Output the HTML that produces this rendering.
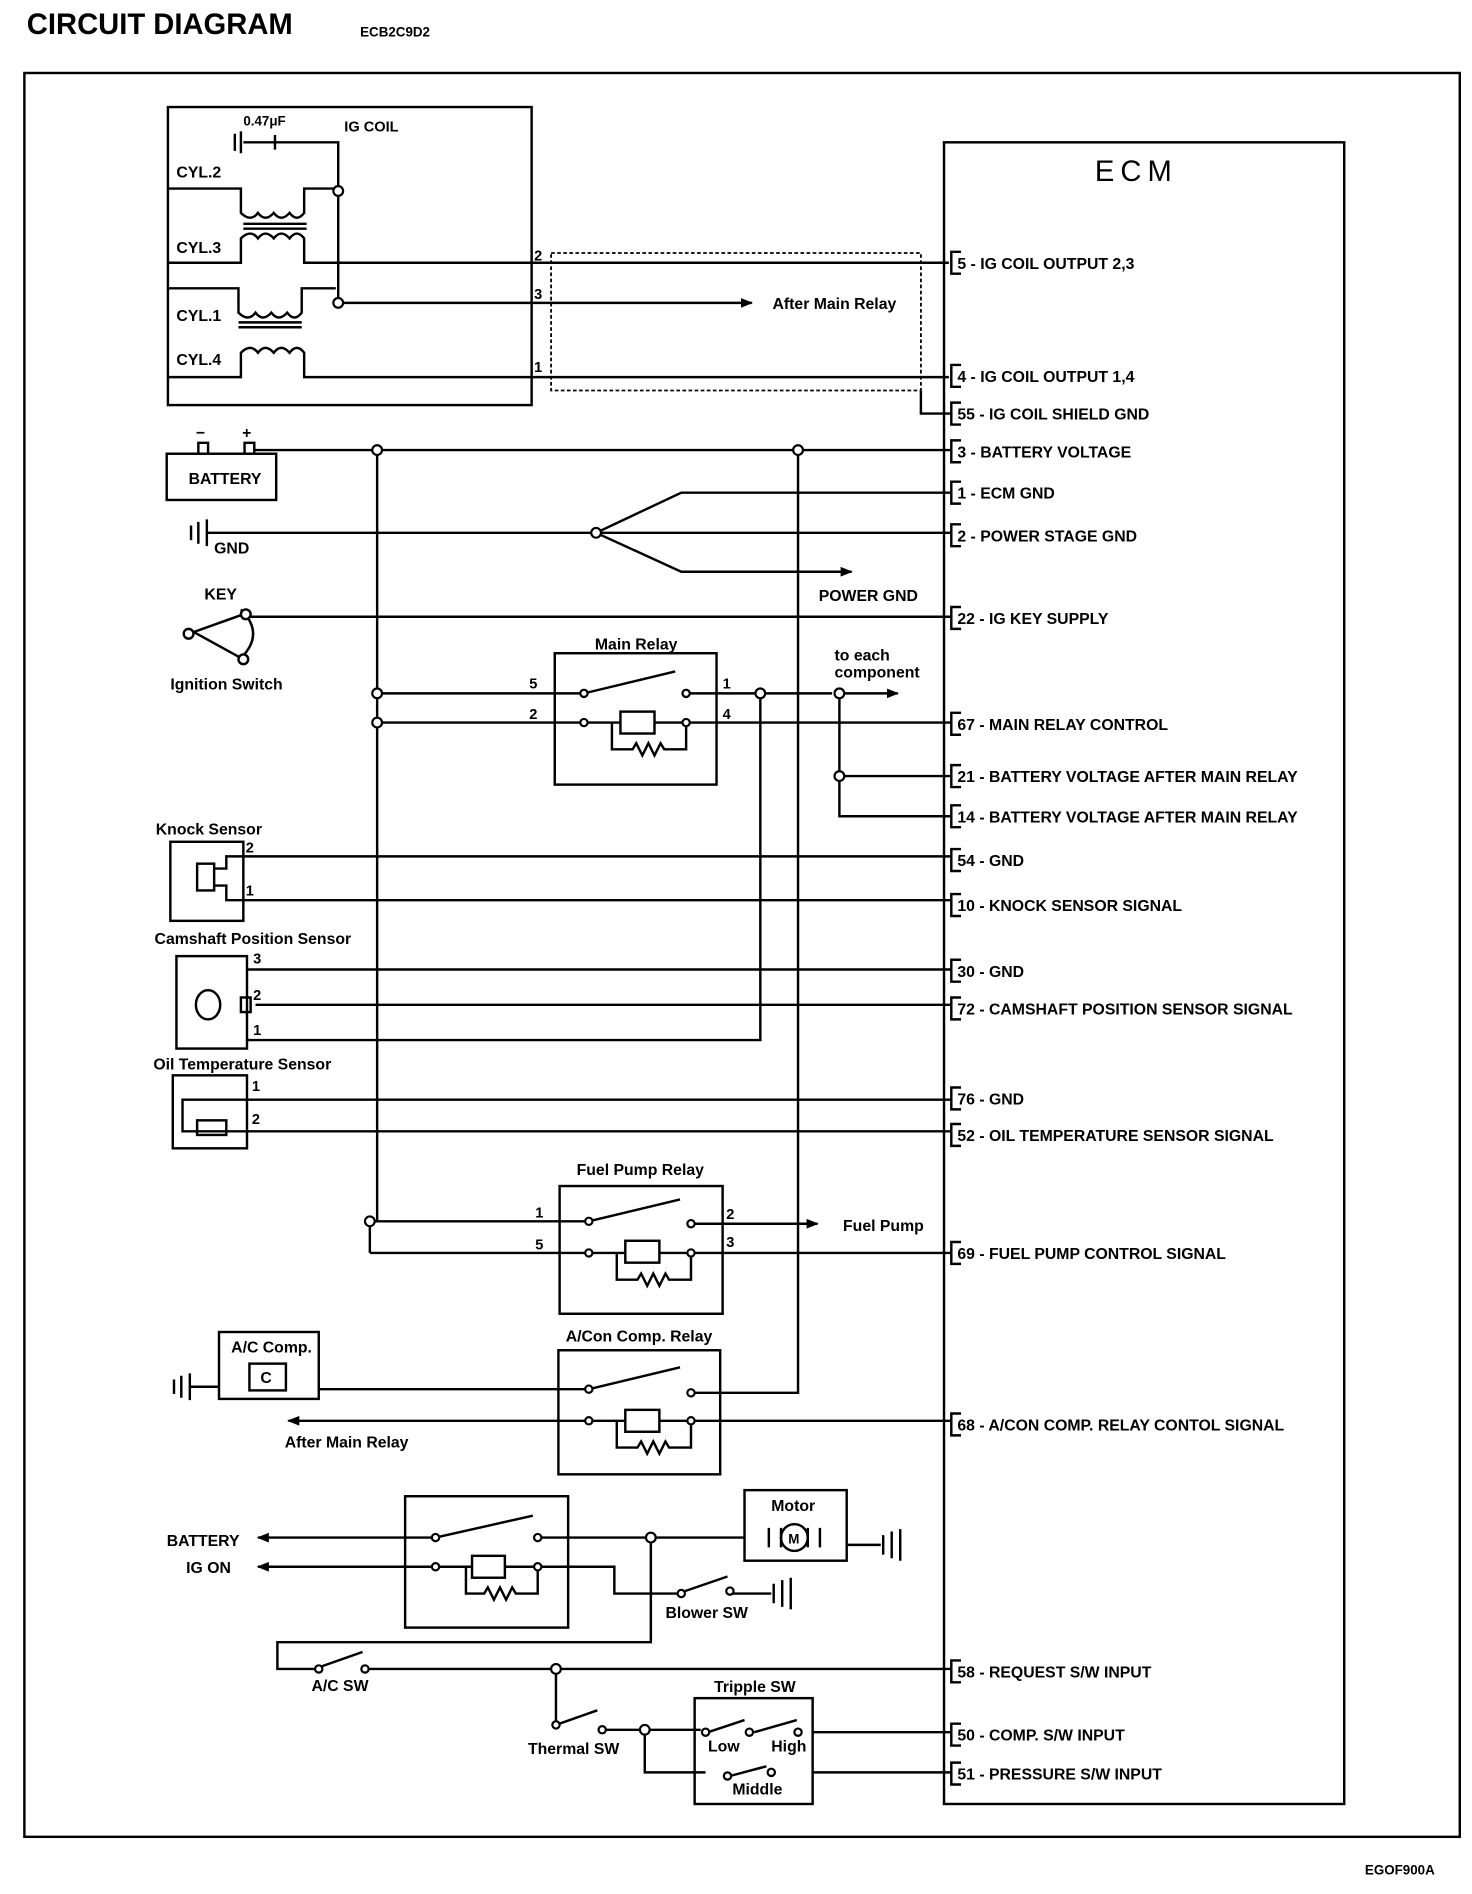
<!DOCTYPE html>
<html><head><meta charset="utf-8"><style>
html,body{margin:0;padding:0;background:#fff;}
svg{display:block;}
text{font-family:"Liberation Sans",sans-serif;font-size:13px;fill:#000;font-weight:bold;}
</style></head><body>
<svg width="1472" height="1894" viewBox="0 0 1210 1557" xmlns="http://www.w3.org/2000/svg">
<defs><marker id="a" markerWidth="10" markerHeight="8" refX="9" refY="4" orient="auto" markerUnits="userSpaceOnUse"><path d="M0 0L10 4L0 8Z" fill="#000"/></marker></defs>
<g stroke="#000" stroke-width="2" fill="none">
<rect x="20" y="60" width="1180" height="1450"/>
<rect x="776" y="117" width="329" height="1366"/>
<!-- IG coil -->
<rect x="138" y="88" width="299" height="245"/>
<path d="M193 110v14M198 108v18M200 117h32M226 111v12M232 117h46v132"/>
<path d="M138 155h60v20q8 8 14 0q6 8 13 0q6 8 13 0q6 8 12 0v-20h28"/>
<path d="M200 184h52M200 188h52"/>
<path d="M138 216h60v-20q8 -8 14 0q6 -8 13 0q6 -8 13 0q6 -8 12 0v20h530"/>
<path d="M138 237h58v20q8 8 14 0q6 8 13 0q6 8 13 0q6 8 12 0v-20h28"/>
<path d="M196 265h52M196 269h52"/>
<path d="M138 310h60v-20q8 -8 14 0q6 -8 13 0q6 -8 13 0q6 -8 12 0v20h530"/>
<path d="M278 249h340" marker-end="url(#a)"/>
<rect x="453" y="208" width="304" height="113" stroke-dasharray="3,2" stroke-width="1.5"/>
<path d="M757 321v19h25"/>
<!-- battery -->
<rect x="137" y="373" width="90" height="38"/>
<path d="M163 373v-9h8v9M201 373v-9h8v9"/>
<path d="M209 370h573M310 370v634M304 1004v26M304 1004h6M656 370v775h-88"/>
<!-- GND -->
<path d="M157 432v12M163 429v18M170 427v22M170 438h612M490 438l70-33h222M490 438l70 32h140"/>
<path d="M560 470h140" marker-end="url(#a)"/>
<!-- key -->
<path d="M158 520l42-15M205 507h577M198 501q20 20 0 40M160 520l40 22"/>
<circle cx="155" cy="521" r="4" fill="#fff"/><circle cx="202" cy="505" r="4" fill="#fff"/><circle cx="200" cy="542" r="4" fill="#fff"/>
<!-- main relay -->
<rect x="456" y="537" width="133" height="108"/>
<path d="M310 570h170M310 594h168M480 570l75-18M564 570h120"/>
<path d="M690 570h48" marker-end="url(#a)"/>
<path d="M480 594h30M538 594h26v22h-18l-3 -5l-5 10l-5 -10l-5 10l-5-10l-3 5h-17v-22M564 594h218"/>
<rect x="510" y="585" width="28" height="18"/>
<path d="M625 570v285H204M690 570v101h92M690 638h92"/>
<!-- knock -->
<rect x="140" y="692" width="60" height="65"/>
<rect x="162" y="710" width="14" height="22"/>
<path d="M176 714h10v-10h596M176 728h10v12h596"/>
<!-- cam -->
<rect x="145" y="786" width="58" height="76"/>
<path d="M203 797h579M210 826h572M203 855h2"/>
<rect x="198" y="820" width="8" height="12"/>
<ellipse cx="171" cy="826" rx="10" ry="12"/>
<!-- oil -->
<rect x="142" y="884" width="61" height="60"/>
<path d="M150 918v-14h632M150 918v12h632"/>
<rect x="162" y="921" width="24" height="12"/>
<!-- fuel pump relay -->
<rect x="460" y="975" width="134" height="105"/>
<path d="M304 1004h180M304 1030h180M484 1004l75-18M568 1006h104"/>
<path d="M590 1006h82" marker-end="url(#a)"/>
<path d="M484 1030h30M542 1030h26v22h-18l-3 -5l-5 10l-5 -10l-5 10l-5-10l-3 5h-17v-22M568 1030h214"/>
<rect x="514" y="1020" width="28" height="18"/>
<!-- a/c comp -->
<rect x="180" y="1095" width="82" height="55"/>
<rect x="205" y="1121" width="30" height="22"/>
<path d="M143 1134v12M149 1131v18M156 1129v22M156 1140h24M262 1142h222M484 1142l75-18"/>
<rect x="459" y="1110" width="133" height="102"/>
<path d="M484 1168h30M542 1168h26v22h-18l-3 -5l-5 10l-5 -10l-5 10l-5-10l-3 5h-17v-22M568 1168h214"/>
<rect x="514" y="1159" width="28" height="18"/>
<path d="M484 1168H237" marker-end="url(#a)"/>
<!-- blower relay -->
<rect x="333" y="1230" width="134" height="108"/>
<path d="M358 1264l80-18M442 1264h170M358 1288h30M415 1288h27v22h-18l-3 -5l-5 10l-5 -10l-5 10l-5-10l-3 5h-15v-22"/>
<rect x="388" y="1279" width="27" height="18"/>
<path d="M358 1264H212" marker-end="url(#a)"/><path d="M358 1288H212" marker-end="url(#a)"/>
<rect x="612" y="1225" width="84" height="58"/>
<circle cx="653" cy="1264" r="11"/>
<path d="M632 1256v16M674 1256v16M642 1256v16M664 1256v16M696 1270h28M726 1262v16M733 1259v22M740 1257v26"/>
<path d="M442 1288h63v22h55M563 1308l35-12M600 1310h34M636 1302v16M643 1299v22M650 1297v26"/>
<path d="M535 1264v86H228v22h32M264 1370l34-12M300 1372h482"/>
<path d="M457 1372v46l34-12M495 1422h78M530 1422v35h50M573 1422h3M668 1424h114M668 1457h114"/>
<rect x="571" y="1396" width="97" height="87"/>
<path d="M582 1424l30-10M620 1424l35-10M600 1460l30-8"/>
<!-- pin brackets -->
<path d="M790 207h-8v18h8M790 300h-8v18h8M790 331h-8v18h8M790 362h-8v18h8M790 396h-8v18h8M790 431h-8v18h8M790 499h-8v18h8M790 586h-8v18h8M790 629h-8v18h8M790 662h-8v18h8M790 698h-8v18h8M790 735h-8v18h8M790 789h-8v18h8M790 820h-8v18h8M790 894h-8v18h8M790 924h-8v18h8M790 1021h-8v18h8M790 1162h-8v18h8M790 1365h-8v18h8M790 1417h-8v18h8M790 1449h-8v18h8"/>
</g>
<g fill="#fff" stroke="#000" stroke-width="1.8">
<circle cx="278" cy="157" r="4"/><circle cx="278" cy="249" r="4"/><circle cx="310" cy="370" r="4"/><circle cx="656" cy="370" r="4"/><circle cx="490" cy="438" r="4"/>
<circle cx="310" cy="570" r="4"/><circle cx="310" cy="594" r="4"/><circle cx="480" cy="570" r="3"/><circle cx="480" cy="594" r="3"/><circle cx="564" cy="570" r="3"/><circle cx="564" cy="594" r="3"/><circle cx="625" cy="570" r="4"/><circle cx="690" cy="570" r="4"/><circle cx="690" cy="638" r="4"/>
<circle cx="304" cy="1004" r="4"/><circle cx="484" cy="1004" r="3"/><circle cx="484" cy="1030" r="3"/><circle cx="568" cy="1006" r="3"/><circle cx="568" cy="1030" r="3"/>
<circle cx="484" cy="1142" r="3"/><circle cx="484" cy="1168" r="3"/><circle cx="568" cy="1145" r="3"/><circle cx="568" cy="1168" r="3"/>
<circle cx="358" cy="1264" r="3"/><circle cx="358" cy="1288" r="3"/><circle cx="442" cy="1264" r="3"/><circle cx="442" cy="1288" r="3"/><circle cx="535" cy="1264" r="4"/>
<circle cx="560" cy="1310" r="3"/><circle cx="600" cy="1308" r="3"/><circle cx="262" cy="1372" r="3"/><circle cx="300" cy="1372" r="3"/><circle cx="457" cy="1372" r="4"/><circle cx="457" cy="1418" r="3"/><circle cx="495" cy="1422" r="3"/><circle cx="530" cy="1422" r="4"/>
<circle cx="580" cy="1424" r="3"/><circle cx="616" cy="1424" r="3"/><circle cx="656" cy="1424" r="3"/><circle cx="598" cy="1460" r="3"/><circle cx="634" cy="1457" r="3"/>
</g>
<text x="22" y="28" style="font-size:24px;font-weight:bold">CIRCUIT DIAGRAM</text>
<text x="296" y="30" style="font-size:11px">ECB2C9D2</text>
<text x="1122" y="1541" style="font-size:11px">EGOF900A</text>
<text x="900" y="149" style="font-size:24px;font-weight:normal;letter-spacing:5px">ECM</text>
<text x="200" y="103" style="font-size:11px">0.47μF</text>
<text x="283" y="108" style="font-size:12px">IG COIL</text>
<text x="145" y="146">CYL.2</text><text x="145" y="208">CYL.3</text><text x="145" y="264">CYL.1</text><text x="145" y="300">CYL.4</text>
<text x="439" y="214" style="font-size:12px">2</text><text x="439" y="246" style="font-size:12px">3</text><text x="439" y="306" style="font-size:12px">1</text>
<text x="635" y="254">After Main Relay</text>
<text x="161" y="360">−</text><text x="199" y="360">+</text>
<text x="155" y="398">BATTERY</text>
<text x="176" y="455">GND</text>
<text x="673" y="494">POWER GND</text>
<text x="168" y="493">KEY</text>
<text x="140" y="567">Ignition Switch</text>
<text x="489" y="534">Main Relay</text>
<text x="435" y="566" style="font-size:12px">5</text><text x="435" y="591" style="font-size:12px">2</text><text x="594" y="566" style="font-size:12px">1</text><text x="594" y="591" style="font-size:12px">4</text>
<text x="686" y="543">to each</text><text x="686" y="557">component</text>
<text x="128" y="686">Knock Sensor</text><text x="202" y="701" style="font-size:12px">2</text><text x="202" y="736" style="font-size:12px">1</text>
<text x="127" y="776">Camshaft Position Sensor</text><text x="208" y="792" style="font-size:12px">3</text><text x="208" y="822" style="font-size:12px">2</text><text x="208" y="851" style="font-size:12px">1</text>
<text x="126" y="879">Oil Temperature Sensor</text><text x="207" y="897" style="font-size:12px">1</text><text x="207" y="924" style="font-size:12px">2</text>
<text x="474" y="966">Fuel Pump Relay</text>
<text x="440" y="1001" style="font-size:12px">1</text><text x="440" y="1027" style="font-size:12px">5</text><text x="597" y="1002" style="font-size:12px">2</text><text x="597" y="1025" style="font-size:12px">3</text>
<text x="693" y="1012">Fuel Pump</text>
<text x="190" y="1112">A/C Comp.</text>
<text x="214" y="1137">C</text>
<text x="465" y="1103">A/Con Comp. Relay</text>
<text x="234" y="1190">After Main Relay</text>
<text x="137" y="1271">BATTERY</text><text x="153" y="1293">IG ON</text>
<text x="634" y="1242">Motor</text><text x="648" y="1269" style="font-size:11px">M</text>
<text x="547" y="1330">Blower SW</text>
<text x="256" y="1390">A/C SW</text>
<text x="434" y="1442">Thermal SW</text>
<text x="587" y="1391">Tripple SW</text>
<text x="582" y="1440">Low</text><text x="634" y="1440">High</text><text x="602" y="1475">Middle</text>
<g style="font-size:13px">
<text x="787" y="221">5 - IG COIL OUTPUT 2,3</text>
<text x="787" y="314">4 - IG COIL OUTPUT 1,4</text>
<text x="787" y="345">55 - IG COIL SHIELD GND</text>
<text x="787" y="376">3 - BATTERY VOLTAGE</text>
<text x="787" y="410">1 - ECM GND</text>
<text x="787" y="445">2 - POWER STAGE GND</text>
<text x="787" y="513">22 - IG KEY SUPPLY</text>
<text x="787" y="600">67 - MAIN RELAY CONTROL</text>
<text x="787" y="643">21 - BATTERY VOLTAGE AFTER MAIN RELAY</text>
<text x="787" y="676">14 - BATTERY VOLTAGE AFTER MAIN RELAY</text>
<text x="787" y="712">54 - GND</text>
<text x="787" y="749">10 - KNOCK SENSOR SIGNAL</text>
<text x="787" y="803">30 - GND</text>
<text x="787" y="834">72 - CAMSHAFT POSITION SENSOR SIGNAL</text>
<text x="787" y="908">76 - GND</text>
<text x="787" y="938">52 - OIL TEMPERATURE SENSOR SIGNAL</text>
<text x="787" y="1035">69 - FUEL PUMP CONTROL SIGNAL</text>
<text x="787" y="1176">68 - A/CON COMP. RELAY  CONTOL SIGNAL</text>
<text x="787" y="1379">58 - REQUEST S/W INPUT</text>
<text x="787" y="1431">50 - COMP. S/W INPUT</text>
<text x="787" y="1463">51 - PRESSURE S/W INPUT</text>
</g>
</svg>
</body></html>
